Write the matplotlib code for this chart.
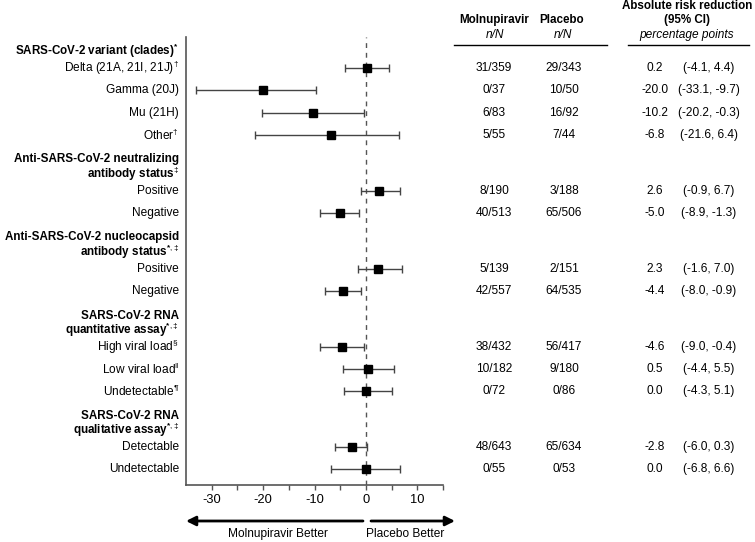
import matplotlib
matplotlib.use("Agg")
import matplotlib.pyplot as plt
from matplotlib.transforms import blended_transform_factory
from matplotlib.lines import Line2D

plt.rcParams['font.family'] = ['Liberation Sans', 'DejaVu Sans']
plt.rcParams['mathtext.fontset'] = 'custom'
plt.rcParams['mathtext.rm'] = 'Liberation Sans'
plt.rcParams['mathtext.it'] = 'Liberation Sans:italic'
plt.rcParams['mathtext.bf'] = 'Liberation Sans:bold'
plt.rcParams['axes.unicode_minus'] = False

# ---------------- data ----------------
group_titles = [
    ["SARS-CoV-2 variant (clades)"],
    ["Anti-SARS-CoV-2 neutralizing", "antibody status"],
    ["Anti-SARS-CoV-2 nucleocapsid", "antibody status"],
    ["SARS-CoV-2 RNA", "quantitative assay"],
    ["SARS-CoV-2 RNA", "qualitative assay"],
]
group_sups = [r"\mathbf{*}", r"\ddagger", r"\mathbf{*},\!\ddagger", r"\mathbf{*},\!\ddagger", r"\mathbf{*},\!\ddagger"]
group_sizes = [4, 2, 2, 3, 2]

row_labels = ["Delta (21A, 21I, 21J)", "Gamma (20J)", "Mu (21H)", "Other",
              "Positive", "Negative",
              "Positive", "Negative",
              "High viral load", "Low viral load", "Undetectable",
              "Detectable", "Undetectable"]
row_sups = [r"\dagger", "", "", r"\dagger",
            "", "",
            "", "",
            r"\S", r"\Vert", r"\P",
            "", ""]
arr = [0.2, -20.0, -10.2, -6.8, 2.6, -5.0, 2.3, -4.4, -4.6, 0.5, 0.0, -2.8, 0.0]
ci_low = [-4.1, -33.1, -20.2, -21.6, -0.9, -8.9, -1.6, -8.0, -9.0, -4.4, -4.3, -6.0, -6.8]
ci_high = [4.4, -9.7, -0.3, 6.4, 6.7, -1.3, 7.0, -0.9, -0.4, 5.5, 5.1, 0.3, 6.6]
mol_nN = ["31/359", "0/37", "6/83", "5/55", "8/190", "40/513", "5/139", "42/557",
          "38/432", "10/182", "0/72", "48/643", "0/55"]
pla_nN = ["29/343", "10/50", "16/92", "7/44", "3/188", "65/506", "2/151", "64/535",
          "56/417", "9/180", "0/86", "65/634", "0/53"]

x_ticks = [-30, -25, -20, -15, -10, -5, 0, 5, 10, 15]
x_ticklabels = ["-30", "", "-20", "", "-10", "", "0", "", "10", ""]

# ---------------- layout ----------------
W, H = 755, 542
FS = 8.6
FSB = 8.35
fig = plt.figure(figsize=(W / 100, H / 100), dpi=100)
ax_l, ax_r, ax_t, ax_b = 186, 443, 37, 485
ax = fig.add_axes([ax_l / W, 1 - ax_b / H, (ax_r - ax_l) / W, (ax_b - ax_t) / H])

px_per_unit = 22.3
first_row_px = 68
y_top = (ax_t - first_row_px) / px_per_unit
y_bot = (ax_b - first_row_px) / px_per_unit
ax.set_xlim(-35, 15)
ax.set_ylim(y_bot, y_top)

# row positions
row_y = []
head_y = []
y = 0.0
for g, n in enumerate(group_sizes):
    if g > 0:
        y = row_y[-1] + 2.5
    head_y.append(y)
    for i in range(n):
        row_y.append(y + i)

ax.axvline(0, color='#555555', lw=1, ls=(0, (3.5, 3.5)), zorder=1)

for i in range(len(arr)):
    ax.errorbar(arr[i], row_y[i],
                xerr=[[arr[i] - ci_low[i]], [ci_high[i] - arr[i]]],
                fmt='s', color='black', ms=5.2, ecolor='#444444', elinewidth=1,
                capsize=3, capthick=1, zorder=3)

for s in ['top', 'right']:
    ax.spines[s].set_visible(False)
for s in ['left', 'bottom']:
    ax.spines[s].set_color('#555555')
    ax.spines[s].set_linewidth(1.2)
ax.set_yticks([])
ax.set_xticks(x_ticks)
ax.set_xticklabels(x_ticklabels, fontsize=9.3)
ax.tick_params(axis='x', length=3.5, width=1, color='#555555', pad=3)

trans = blended_transform_factory(fig.transFigure, ax.transData)
lab_x = 179 / W
line_sp = 0.65
for g, lines in enumerate(group_titles):
    n = len(lines)
    for j, ln in enumerate(lines):
        yy = head_y[g] - 0.75 - (n - 1 - j) * line_sp
        txt = ln
        if j == n - 1:
            txt = ln + r"$^{" + group_sups[g] + r"}$"
        ax.text(lab_x, yy, txt, transform=trans, ha='right', va='center',
                fontsize=FSB, fontweight='bold', clip_on=False)

for i, lab in enumerate(row_labels):
    txt = lab if row_sups[i] == "" else lab + r"$^{" + row_sups[i] + r"}$"
    ax.text(lab_x, row_y[i], txt, transform=trans, ha='right', va='center',
            fontsize=FS, clip_on=False)

# table columns
x_mol, x_pla, x_arr, x_ci = 494 / W, 564 / W, 655 / W, 709 / W
for i in range(len(arr)):
    ax.text(x_mol, row_y[i], mol_nN[i], transform=trans, ha='center', va='center', fontsize=FS, clip_on=False)
    ax.text(x_pla, row_y[i], pla_nN[i], transform=trans, ha='center', va='center', fontsize=FS, clip_on=False)
    ax.text(x_arr, row_y[i], f"{arr[i]:.1f}", transform=trans, ha='center', va='center', fontsize=FS, clip_on=False)
    ax.text(x_ci, row_y[i], f"({ci_low[i]:.1f}, {ci_high[i]:.1f})", transform=trans,
            ha='center', va='center', fontsize=FS, clip_on=False)

def fy(p):
    return 1 - p / H

fig.text(494 / W, fy(20), "Molnupiravir", ha='center', va='center', fontsize=FSB, fontweight='bold')
fig.text(495 / W, fy(35), "n/N", ha='center', va='center', fontsize=FS, style='italic')
fig.text(562 / W, fy(20), "Placebo", ha='center', va='center', fontsize=FSB, fontweight='bold')
fig.text(563 / W, fy(35), "n/N", ha='center', va='center', fontsize=FS, style='italic')
fig.text(687 / W, fy(6), "Absolute risk reduction", ha='center', va='center', fontsize=FSB, fontweight='bold')
fig.text(687 / W, fy(20), "(95% CI)", ha='center', va='center', fontsize=FSB, fontweight='bold')
fig.text(687 / W, fy(35), "percentage points", ha='center', va='center', fontsize=FS, style='italic')
fig.add_artist(Line2D([454 / W, 607 / W], [fy(45), fy(45)], color='black', lw=1))
fig.add_artist(Line2D([628 / W, 749 / W], [fy(45), fy(45)], color='black', lw=1))

# direction arrows
fig.add_artist(matplotlib.patches.FancyArrowPatch((363 / W, fy(521)), (186 / W, fy(521)),
               transform=fig.transFigure, arrowstyle='-|>', mutation_scale=14, lw=2,
               color='black', shrinkA=0, shrinkB=0))
fig.add_artist(matplotlib.patches.FancyArrowPatch((371 / W, fy(521)), (455 / W, fy(521)),
               transform=fig.transFigure, arrowstyle='-|>', mutation_scale=14, lw=2,
               color='black', shrinkA=0, shrinkB=0))
fig.text(278 / W, fy(534), "Molnupiravir Better", ha='center', va='center', fontsize=FS)
fig.text(405 / W, fy(534), "Placebo Better", ha='center', va='center', fontsize=FS)

fig.savefig("out.png", dpi=100, facecolor='white')
